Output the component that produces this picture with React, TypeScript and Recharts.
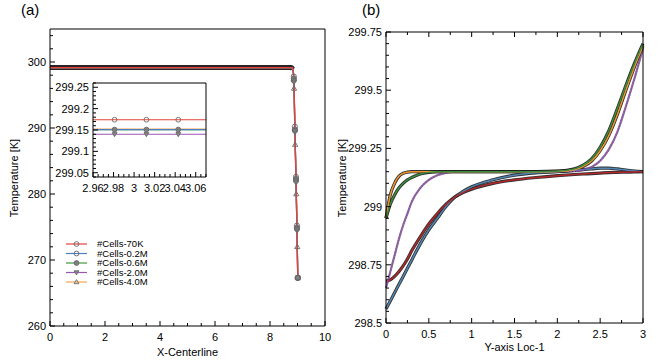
import React from 'react';
import { LineChart, Line, XAxis, YAxis, Legend } from 'recharts';

const FONT = '"Liberation Sans", Arial, Helvetica, sans-serif';

// ---------------- shared series meta ----------------
const seriesNames = ['#Cells-70K', '#Cells-0.2M', '#Cells-0.6M', '#Cells-2.0M', '#Cells-4.0M'];
const seriesColors = ['#e8403a', '#4a80c0', '#3f9a3f', '#9b55b5', '#f5a34e'];
const markerKinds = ['circle', 'circle', 'dot', 'triDown', 'triUp'];
const rightColors = ['#b3262a', '#4f86b4', '#3d8c3d', '#9050b0', '#f0952e'];

// ---------------- panel (a): X-Centerline ----------------
const a70K_x = [0, 2, 4, 6, 8, 8.78, 8.83, 8.865, 8.905, 8.945, 8.98, 9.01];
const a70K_T = [299.15, 299.15, 299.15, 299.15, 299.15, 299.15, 298.9, 297.8, 290.2, 282.6, 275.2, 267.3];
const a02M_x = [0, 2, 4, 6, 8, 8.78, 8.83, 8.866, 8.906, 8.946, 8.981, 9.01];
const a02M_T = [299.15, 299.15, 299.15, 299.15, 299.15, 299.15, 298.9, 297.2, 289.6, 282.0, 274.7, 267.3];
const a06M_x = [0, 2, 4, 6, 8, 8.78, 8.83, 8.865, 8.905, 8.945, 8.98, 9.01];
const a06M_T = [299.15, 299.15, 299.15, 299.15, 299.15, 299.15, 298.9, 297.5, 289.8, 282.3, 274.9, 267.3];
const a20M_x = [0, 2, 4, 6, 8, 8.78, 8.83, 8.867, 8.907, 8.947, 8.982, 9.01];
const a20M_T = [299.14, 299.14, 299.14, 299.14, 299.14, 299.14, 298.9, 297.0, 289.4, 281.8, 274.5, 267.3];
const a40M_x = [0, 2, 4, 6, 8, 8.78, 8.83, 8.874, 8.915, 8.955, 8.99, 9.01];
const a40M_T = [299.15, 299.15, 299.15, 299.15, 299.15, 299.15, 298.9, 296.0, 287.5, 280.0, 272.0, 267.3];

const aXMajor = [0, 2, 4, 6, 8, 10];
const aYMajor = [260, 270, 280, 290, 300];

// ---------------- inset ----------------
const insetX = [2.96, 2.981, 3.012, 3.043, 3.07];
const inset70K = [299.174, 299.174, 299.174, 299.174, 299.174];
const inset02M = [299.151, 299.151, 299.151, 299.151, 299.151];
const inset06M = [299.151, 299.151, 299.151, 299.151, 299.151];
const inset20M = [299.14, 299.14, 299.14, 299.14, 299.14];
const inset40M = [299.152, 299.152, 299.152, 299.152, 299.152];
const iXMajor = [2.96, 2.98, 3, 3.02, 3.04, 3.06];
const iYMajor = [299.05, 299.1, 299.15, 299.2, 299.25];

// ---------------- panel (b): Y-axis Loc-1 ----------------
const bX = [0, 0.05, 0.1, 0.15, 0.2, 0.25, 0.3, 0.4, 0.5, 0.6, 0.7, 0.8, 0.9, 1.0, 1.25, 1.5, 1.75, 2.0, 2.2, 2.3, 2.4, 2.5, 2.6, 2.7, 2.8, 2.9, 3.0];
const b70K = [298.68, 298.685, 298.7, 298.72, 298.745, 298.775, 298.81, 298.87, 298.925, 298.97, 299.01, 299.04, 299.06, 299.075, 299.1, 299.115, 299.125, 299.133, 299.138, 299.14, 299.142, 299.144, 299.146, 299.147, 299.148, 299.149, 299.15];
const b02M = [298.56, 298.595, 298.63, 298.665, 298.7, 298.735, 298.77, 298.84, 298.9, 298.95, 299.0, 299.04, 299.065, 299.085, 299.115, 299.135, 299.145, 299.15, 299.156, 299.159, 299.162, 299.165, 299.165, 299.162, 299.157, 299.153, 299.15];
const b06M = [298.95, 299.01, 299.05, 299.08, 299.1, 299.115, 299.125, 299.14, 299.147, 299.15, 299.15, 299.15, 299.15, 299.15, 299.15, 299.15, 299.15, 299.152, 299.162, 299.178, 299.205, 299.255, 299.325, 299.42, 299.52, 299.615, 299.7];
const b20M = [298.65, 298.72, 298.79, 298.86, 298.92, 298.97, 299.02, 299.08, 299.115, 299.135, 299.145, 299.15, 299.15, 299.15, 299.15, 299.15, 299.15, 299.15, 299.152, 299.158, 299.17, 299.197, 299.245, 299.32, 299.43, 299.55, 299.68];
const b40M = [298.95, 299.05, 299.1, 299.13, 299.143, 299.148, 299.15, 299.15, 299.15, 299.15, 299.15, 299.15, 299.15, 299.15, 299.15, 299.15, 299.15, 299.151, 299.158, 299.172, 299.196, 299.24, 299.305, 299.395, 299.5, 299.6, 299.69];
const bXMajor = [0, 0.5, 1, 1.5, 2, 2.5, 3];
const bYMajor = [298.5, 298.75, 299, 299.25, 299.5, 299.75];

// ---------------- helpers ----------------
const range = (a: number, b: number, step: number) => {
  const out: number[] = [];
  const n = Math.round((b - a) / step);
  for (let i = 0; i <= n; i++) out.push(+(a + i * step).toFixed(6));
  return out;
};
const zip = (xs: number[], ts: number[]) => xs.map((x, i) => ({ x, T: ts[i] }));

const aXAll = range(0, 10, 0.5);
const aYAll = range(260, 304, 2);
const iXAll = range(2.96, 3.07, 0.005);
const iYAll = range(299.04, 299.26, 0.01);
const bXAll = range(0, 3, 0.25);
const bYAll = range(298.5, 299.75, 0.05);

type Side = 'bottom' | 'left' | 'top' | 'right';
const makeTick = (side: Side, majors: number[], showLabels: boolean) => (props: any) => {
  const { x, y, payload, index } = props;
  const v = payload.value as number;
  const major = majors.find((m) => Math.abs(m - v) < 1e-6);
  const isMajor = major !== undefined;
  const len = isMajor ? 5 : 3;
  let x2 = x;
  let y2 = y;
  if (side === 'bottom') y2 = y - len;
  if (side === 'top') y2 = y + len;
  if (side === 'left') x2 = x + len;
  if (side === 'right') x2 = x - len;
  return (
    <g key={`t-${side}-${index}`}>
      <line x1={x} y1={y} x2={x2} y2={y2} stroke="#000" strokeWidth={1} />
      {showLabels && isMajor && side === 'bottom' && (
        <text x={x} y={y + 14.5} textAnchor="middle" fontSize={11} fontFamily={FONT} fill="#000">
          {String(major)}
        </text>
      )}
      {showLabels && isMajor && side === 'left' && (
        <text x={x - 4} y={y + 4} textAnchor="end" fontSize={11} fontFamily={FONT} fill="#000">
          {String(major)}
        </text>
      )}
    </g>
  );
};

const drawMarker = (kind: string, cx: number, cy: number, key: any, s = 2.6) => {
  const common = { stroke: '#676767', strokeWidth: 0.9 };
  if (kind === 'circle') return <circle key={key} cx={cx} cy={cy} r={s} fill="none" {...common} />;
  if (kind === 'dot') return <circle key={key} cx={cx} cy={cy} r={s} fill="#808080" {...common} />;
  if (kind === 'triDown')
    return <polygon key={key} points={`${cx - s},${cy - s * 0.7} ${cx + s},${cy - s * 0.7} ${cx},${cy + s}`} fill="#8c8c8c" {...common} />;
  if (kind === 'triUp')
    return <polygon key={key} points={`${cx - s},${cy + s * 0.7} ${cx + s},${cy + s * 0.7} ${cx},${cy - s}`} fill="none" {...common} />;
  return <g key={key} />;
};

const dropDot = (kind: string) => (p: any) =>
  p.payload && p.payload.x > 8.85 ? drawMarker(kind, p.cx, p.cy, `d-${p.index}`) : <g key={`n-${p.index}`} />;
const insetDot = (kind: string) => (p: any) =>
  p.index >= 1 && p.index <= 3 ? drawMarker(kind, p.cx, p.cy, `i-${p.index}`, 2.4) : <g key={`n-${p.index}`} />;

const renderLegend = () => (
  <svg width={120} height={56} style={{ display: 'block' }}>
    {seriesNames.map((name, i) => (
      <g key={name} transform={`translate(0, ${6 + i * 9.5})`}>
        <line x1={4} x2={25} y1={0} y2={0} stroke={seriesColors[i]} strokeWidth={1.2} />
        {drawMarker(markerKinds[i], 14.5, 0, `lm-${i}`, 2.4)}
        <text x={35} y={3.3} fontSize={9.5} fontFamily={FONT} fill="#000">
          {name}
        </text>
      </g>
    ))}
  </svg>
);

// ---------------- data tables ----------------
const aSeries = [
  zip(a70K_x, a70K_T),
  zip(a02M_x, a02M_T),
  zip(a06M_x, a06M_T),
  zip(a20M_x, a20M_T),
  zip(a40M_x, a40M_T),
];
const aBand = zip(a70K_x.slice(0, 7), a70K_T.slice(0, 7));
const insetSeries = [inset70K, inset02M, inset06M, inset20M, inset40M].map((ts) => zip(insetX, ts));
const bData = bX.map((x, i) => ({ x, s0: b70K[i], s1: b02M[i], s2: b06M[i], s3: b20M[i], s4: b40M[i] }));

const axisLine = { stroke: '#000', strokeWidth: 1 };

export default function App() {
  const drawOrderA = [4, 3, 2, 1, 0];
  const drawOrderB = [1, 0, 3, 4, 2];
  return (
    <div style={{ position: 'absolute', left: 0, top: 0, width: 664, height: 360, background: '#fff' }}>
      {/* panel (a) */}
      <div style={{ position: 'absolute', left: 0, top: 0 }}>
        <LineChart width={340} height={360} margin={{ top: 28, right: 14, bottom: 33, left: 49 }}>
          <XAxis xAxisId="b" type="number" dataKey="x" domain={[0, 10]} ticks={aXAll} interval={0} height={1}
            tickSize={0} tickMargin={0} tickLine={false} axisLine={axisLine} tick={makeTick('bottom', aXMajor, true)} />
          <XAxis xAxisId="t" orientation="top" type="number" dataKey="x" domain={[0, 10]} ticks={aXAll} interval={0} height={1}
            tickSize={0} tickMargin={0} tickLine={false} axisLine={axisLine} tick={makeTick('top', aXMajor, false)} />
          <YAxis yAxisId="l" type="number" domain={[260, 305]} ticks={aYAll} interval={0} width={1}
            tickSize={0} tickMargin={0} tickLine={false} axisLine={axisLine} tick={makeTick('left', aYMajor, true)} />
          <YAxis yAxisId="r" orientation="right" type="number" domain={[260, 305]} ticks={aYAll} interval={0} width={1}
            tickSize={0} tickMargin={0} tickLine={false} axisLine={axisLine} tick={makeTick('right', aYMajor, false)} />
          <Line xAxisId="b" yAxisId="l" data={aBand} dataKey="T" type="monotone" stroke="#2a2222" strokeWidth={5}
            dot={false} isAnimationActive={false} legendType="none" />
          {drawOrderA.map((i) => (
            <Line key={i} xAxisId="b" yAxisId="l" data={aSeries[i]} dataKey="T" name={seriesNames[i]} type="monotone"
              stroke={seriesColors[i]} strokeWidth={1.3} dot={dropDot(markerKinds[i])} isAnimationActive={false} />
          ))}
          <Legend layout="vertical" align="center" verticalAlign="middle" content={renderLegend}
            wrapperStyle={{ left: 62, top: 238, width: 120, height: 56 }} />
        </LineChart>
      </div>

      {/* inset */}
      <div style={{ position: 'absolute', left: 40, top: 75 }}>
        <LineChart width={180} height={120} margin={{ top: 7, right: 13, bottom: 17, left: 52 }}>
          <XAxis xAxisId="b" type="number" dataKey="x" domain={[2.96, 3.07]} ticks={iXAll} interval={0} height={1}
            tickSize={0} tickMargin={0} tickLine={false} axisLine={axisLine} tick={makeTick('bottom', iXMajor, true)} />
          <XAxis xAxisId="t" orientation="top" type="number" dataKey="x" domain={[2.96, 3.07]} ticks={iXAll} interval={0} height={1}
            tickSize={0} tickMargin={0} tickLine={false} axisLine={axisLine} tick={makeTick('top', iXMajor, false)} />
          <YAxis yAxisId="l" type="number" domain={[299.04, 299.26]} ticks={iYAll} interval={0} width={1}
            tickSize={0} tickMargin={0} tickLine={false} axisLine={axisLine} tick={makeTick('left', iYMajor, true)} />
          <YAxis yAxisId="r" orientation="right" type="number" domain={[299.04, 299.26]} ticks={iYAll} interval={0} width={1}
            tickSize={0} tickMargin={0} tickLine={false} axisLine={axisLine} tick={makeTick('right', iYMajor, false)} />
          {[4, 2, 1, 3, 0].map((i) => (
            <Line key={i} xAxisId="b" yAxisId="l" data={insetSeries[i]} dataKey="T" type="linear"
              stroke={seriesColors[i]} strokeWidth={1.2} dot={i === 4 || i === 1 ? false : insetDot(markerKinds[i])}
              isAnimationActive={false} />
          ))}
        </LineChart>
      </div>

      {/* panel (b) */}
      <div style={{ position: 'absolute', left: 340, top: 0 }}>
        <LineChart width={324} height={360} data={bData} margin={{ top: 31, right: 20, bottom: 36, left: 45 }}>
          <XAxis xAxisId="b" type="number" dataKey="x" domain={[0, 3]} ticks={bXAll} interval={0} height={1}
            tickSize={0} tickMargin={0} tickLine={false} axisLine={axisLine} tick={makeTick('bottom', bXMajor, true)} />
          <XAxis xAxisId="t" orientation="top" type="number" dataKey="x" domain={[0, 3]} ticks={bXAll} interval={0} height={1}
            tickSize={0} tickMargin={0} tickLine={false} axisLine={axisLine} tick={makeTick('top', bXMajor, false)} />
          <YAxis yAxisId="l" type="number" domain={[298.5, 299.75]} ticks={bYAll} interval={0} width={1}
            tickSize={0} tickMargin={0} tickLine={false} axisLine={axisLine} tick={makeTick('left', bYMajor, true)} />
          <YAxis yAxisId="r" orientation="right" type="number" domain={[298.5, 299.75]} ticks={bYAll} interval={0} width={1}
            tickSize={0} tickMargin={0} tickLine={false} axisLine={axisLine} tick={makeTick('right', bYMajor, false)} />
          {drawOrderB.map((i) => (
            <Line key={`u${i}`} xAxisId="b" yAxisId="l" dataKey={`s${i}`} type="monotone"
              stroke={i === 3 ? '#5a3a66' : '#1c1c1c'} strokeWidth={i === 3 ? 2.2 : 3.2} strokeOpacity={i === 3 ? 0.7 : 0.9}
              dot={false} isAnimationActive={false} />
          ))}
          {drawOrderB.map((i) => (
            <Line key={`c${i}`} xAxisId="b" yAxisId="l" dataKey={`s${i}`} type="monotone"
              stroke={rightColors[i]} strokeWidth={i === 3 ? 1.4 : 1.5}
              strokeDasharray={i === 3 ? '2 1' : undefined}
              dot={false} isAnimationActive={false} />
          ))}
        </LineChart>
      </div>

      {/* titles */}
      <svg width={664} height={360} style={{ position: 'absolute', left: 0, top: 0, pointerEvents: 'none' }}>
        <text x={21} y={15} fontSize={15} fontFamily={FONT} fill="#000">(a)</text>
        <text x={362} y={15} fontSize={15} fontFamily={FONT} fill="#000">(b)</text>
        <text transform="translate(18,178) rotate(-90)" textAnchor="middle" fontSize={11} fontFamily={FONT} fill="#000">
          Temperature [K]
        </text>
        <text transform="translate(346,178) rotate(-90)" textAnchor="middle" fontSize={11} fontFamily={FONT} fill="#000">
          Temperature [K]
        </text>
        <text x={187.5} y={356} textAnchor="middle" fontSize={11} fontFamily={FONT} fill="#000">X-Centerline</text>
        <text x={514.5} y={351} textAnchor="middle" fontSize={11} fontFamily={FONT} fill="#000">Y-axis Loc-1</text>
      </svg>
    </div>
  );
}
